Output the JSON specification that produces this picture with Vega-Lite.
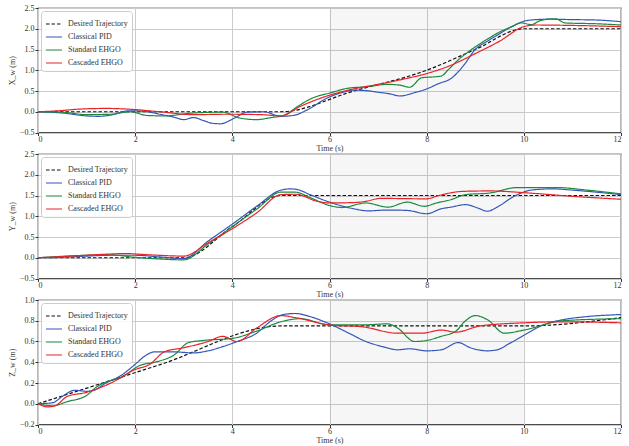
{
"$schema": "https://vega.github.io/schema/vega-lite/v6.json",
"background": "white",
"padding": {"left": 7, "top": 3, "right": 0, "bottom": 0},
"bounds": "flush",
"spacing": 21,
"config": {
  "font": "Liberation Serif",
  "view": {"stroke": "#111111", "strokeWidth": 1.2},
  "axis": {"labelFont": "Liberation Serif", "labelFontSize": 8, "labelColor": "#333333", "titleFont": "Liberation Serif", "titleFontSize": 8, "titleFontWeight": "normal", "titleColor": "#333333", "grid": true, "gridColor": "#cccccc", "gridWidth": 1, "domain": false, "tickColor": "#333333", "tickSize": 3, "labelPadding": 1},
  "axisX": {"titlePadding": 1, "labelPadding": 0},
  "axisY": {"titlePadding": 3},
  "legend": {"orient": "top-left", "offset": 3, "padding": 4, "strokeColor": "#cccccc", "fillColor": "rgba(255,255,255,0.85)", "cornerRadius": 3, "labelFont": "Liberation Serif", "labelFontSize": 8, "labelColor": "#333333", "symbolType": "stroke", "symbolSize": 256, "symbolStrokeWidth": 1.2, "rowPadding": -5, "labelOffset": 5}
},
"resolve": {"scale": {"color": "independent", "strokeDash": "independent"}, "legend": {"color": "independent", "strokeDash": "independent"}},
"datasets": {
"shade": [{"t": 6, "t2": 10}],
"x": [
{"s":"Desired Trajectory","t":0,"v":0},{"s":"Desired Trajectory","t":5,"v":0},{"s":"Desired Trajectory","t":6.5,"v":0.5},{"s":"Desired Trajectory","t":8,"v":1},{"s":"Desired Trajectory","t":9,"v":1.5},{"s":"Desired Trajectory","t":10,"v":2},{"s":"Desired Trajectory","t":12,"v":2},
{"s":"Classical PID","t":0,"v":0},{"s":"Classical PID","t":0.5,"v":-0.03},{"s":"Classical PID","t":1,"v":-0.1},{"s":"Classical PID","t":1.25,"v":-0.11},{"s":"Classical PID","t":1.5,"v":-0.08},{"s":"Classical PID","t":1.85,"v":0.02},{"s":"Classical PID","t":2,"v":0.02},{"s":"Classical PID","t":2.25,"v":0},{"s":"Classical PID","t":2.55,"v":-0.07},{"s":"Classical PID","t":2.8,"v":-0.13},{"s":"Classical PID","t":3,"v":-0.19},{"s":"Classical PID","t":3.2,"v":-0.14},{"s":"Classical PID","t":3.4,"v":-0.21},{"s":"Classical PID","t":3.6,"v":-0.28},{"s":"Classical PID","t":3.75,"v":-0.29},{"s":"Classical PID","t":4.05,"v":-0.15},{"s":"Classical PID","t":4.3,"v":-0.01},{"s":"Classical PID","t":4.65,"v":0},{"s":"Classical PID","t":5,"v":-0.11},{"s":"Classical PID","t":5.25,"v":-0.09},{"s":"Classical PID","t":5.55,"v":0.05},{"s":"Classical PID","t":5.95,"v":0.33},{"s":"Classical PID","t":6.25,"v":0.46},{"s":"Classical PID","t":6.5,"v":0.52},{"s":"Classical PID","t":6.75,"v":0.51},{"s":"Classical PID","t":7,"v":0.47},{"s":"Classical PID","t":7.25,"v":0.43},{"s":"Classical PID","t":7.45,"v":0.38},{"s":"Classical PID","t":7.75,"v":0.46},{"s":"Classical PID","t":8,"v":0.55},{"s":"Classical PID","t":8.25,"v":0.68},{"s":"Classical PID","t":8.5,"v":0.8},{"s":"Classical PID","t":8.75,"v":1.1},{"s":"Classical PID","t":9,"v":1.5},{"s":"Classical PID","t":9.25,"v":1.7},{"s":"Classical PID","t":9.5,"v":1.88},{"s":"Classical PID","t":9.75,"v":2.05},{"s":"Classical PID","t":10,"v":2.18},{"s":"Classical PID","t":10.25,"v":2.22},{"s":"Classical PID","t":10.5,"v":2.23},{"s":"Classical PID","t":11,"v":2.22},{"s":"Classical PID","t":11.5,"v":2.21},{"s":"Classical PID","t":12,"v":2.17},
{"s":"Standard EHGO","t":0,"v":0},{"s":"Standard EHGO","t":0.5,"v":-0.01},{"s":"Standard EHGO","t":1,"v":-0.07},{"s":"Standard EHGO","t":1.5,"v":-0.06},{"s":"Standard EHGO","t":1.9,"v":0},{"s":"Standard EHGO","t":2.25,"v":-0.09},{"s":"Standard EHGO","t":2.6,"v":-0.1},{"s":"Standard EHGO","t":3.2,"v":-0.03},{"s":"Standard EHGO","t":3.8,"v":-0.01},{"s":"Standard EHGO","t":4.15,"v":-0.15},{"s":"Standard EHGO","t":4.5,"v":-0.19},{"s":"Standard EHGO","t":4.8,"v":-0.14},{"s":"Standard EHGO","t":5.05,"v":-0.09},{"s":"Standard EHGO","t":5.4,"v":0.17},{"s":"Standard EHGO","t":5.65,"v":0.33},{"s":"Standard EHGO","t":6,"v":0.45},{"s":"Standard EHGO","t":6.4,"v":0.57},{"s":"Standard EHGO","t":6.75,"v":0.6},{"s":"Standard EHGO","t":7.2,"v":0.66},{"s":"Standard EHGO","t":7.45,"v":0.64},{"s":"Standard EHGO","t":7.65,"v":0.59},{"s":"Standard EHGO","t":7.9,"v":0.82},{"s":"Standard EHGO","t":8.15,"v":0.84},{"s":"Standard EHGO","t":8.3,"v":0.86},{"s":"Standard EHGO","t":8.45,"v":1.02},{"s":"Standard EHGO","t":8.65,"v":1.25},{"s":"Standard EHGO","t":8.9,"v":1.48},{"s":"Standard EHGO","t":9.25,"v":1.75},{"s":"Standard EHGO","t":9.5,"v":1.92},{"s":"Standard EHGO","t":9.75,"v":2.05},{"s":"Standard EHGO","t":9.95,"v":2.14},{"s":"Standard EHGO","t":10.15,"v":2.1},{"s":"Standard EHGO","t":10.35,"v":2.2},{"s":"Standard EHGO","t":10.65,"v":2.24},{"s":"Standard EHGO","t":10.85,"v":2.14},{"s":"Standard EHGO","t":11.5,"v":2.12},{"s":"Standard EHGO","t":12,"v":2.09},
{"s":"Cascaded EHGO","t":0,"v":0},{"s":"Cascaded EHGO","t":0.5,"v":0.03},{"s":"Cascaded EHGO","t":0.8,"v":0.06},{"s":"Cascaded EHGO","t":1.4,"v":0.08},{"s":"Cascaded EHGO","t":1.9,"v":0.06},{"s":"Cascaded EHGO","t":2.5,"v":0},{"s":"Cascaded EHGO","t":3.2,"v":-0.07},{"s":"Cascaded EHGO","t":3.9,"v":-0.06},{"s":"Cascaded EHGO","t":4.6,"v":-0.07},{"s":"Cascaded EHGO","t":5,"v":-0.1},{"s":"Cascaded EHGO","t":5.4,"v":0.13},{"s":"Cascaded EHGO","t":5.95,"v":0.38},{"s":"Cascaded EHGO","t":6.5,"v":0.55},{"s":"Cascaded EHGO","t":7,"v":0.66},{"s":"Cascaded EHGO","t":7.5,"v":0.78},{"s":"Cascaded EHGO","t":8,"v":0.92},{"s":"Cascaded EHGO","t":8.5,"v":1.12},{"s":"Cascaded EHGO","t":9,"v":1.4},{"s":"Cascaded EHGO","t":9.5,"v":1.7},{"s":"Cascaded EHGO","t":10,"v":2.05},{"s":"Cascaded EHGO","t":10.25,"v":2.09},{"s":"Cascaded EHGO","t":11,"v":2.08},{"s":"Cascaded EHGO","t":12,"v":2.05}
],
"y": [
{"s":"Desired Trajectory","t":0,"v":0},{"s":"Desired Trajectory","t":3,"v":0},{"s":"Desired Trajectory","t":4,"v":0.75},{"s":"Desired Trajectory","t":5,"v":1.5},{"s":"Desired Trajectory","t":12,"v":1.5},
{"s":"Classical PID","t":0,"v":0},{"s":"Classical PID","t":0.5,"v":0.01},{"s":"Classical PID","t":1,"v":0.04},{"s":"Classical PID","t":1.5,"v":0.06},{"s":"Classical PID","t":2,"v":0.06},{"s":"Classical PID","t":2.5,"v":0.02},{"s":"Classical PID","t":3,"v":-0.02},{"s":"Classical PID","t":3.5,"v":0.4},{"s":"Classical PID","t":4,"v":0.81},{"s":"Classical PID","t":4.5,"v":1.24},{"s":"Classical PID","t":5,"v":1.63},{"s":"Classical PID","t":5.2,"v":1.66},{"s":"Classical PID","t":5.35,"v":1.64},{"s":"Classical PID","t":5.6,"v":1.52},{"s":"Classical PID","t":6,"v":1.34},{"s":"Classical PID","t":6.5,"v":1.18},{"s":"Classical PID","t":6.8,"v":1.13},{"s":"Classical PID","t":7.2,"v":1.15},{"s":"Classical PID","t":7.6,"v":1.14},{"s":"Classical PID","t":8,"v":1.06},{"s":"Classical PID","t":8.3,"v":1.18},{"s":"Classical PID","t":8.5,"v":1.22},{"s":"Classical PID","t":8.8,"v":1.28},{"s":"Classical PID","t":9.05,"v":1.2},{"s":"Classical PID","t":9.25,"v":1.12},{"s":"Classical PID","t":9.45,"v":1.22},{"s":"Classical PID","t":9.8,"v":1.48},{"s":"Classical PID","t":10.15,"v":1.63},{"s":"Classical PID","t":10.6,"v":1.66},{"s":"Classical PID","t":11,"v":1.63},{"s":"Classical PID","t":11.5,"v":1.58},{"s":"Classical PID","t":12,"v":1.52},
{"s":"Standard EHGO","t":0,"v":0},{"s":"Standard EHGO","t":1,"v":0.06},{"s":"Standard EHGO","t":1.5,"v":0.07},{"s":"Standard EHGO","t":2,"v":0.01},{"s":"Standard EHGO","t":2.5,"v":-0.03},{"s":"Standard EHGO","t":3,"v":-0.05},{"s":"Standard EHGO","t":3.5,"v":0.33},{"s":"Standard EHGO","t":4,"v":0.75},{"s":"Standard EHGO","t":4.5,"v":1.17},{"s":"Standard EHGO","t":5,"v":1.58},{"s":"Standard EHGO","t":5.3,"v":1.58},{"s":"Standard EHGO","t":5.6,"v":1.45},{"s":"Standard EHGO","t":6,"v":1.26},{"s":"Standard EHGO","t":6.25,"v":1.21},{"s":"Standard EHGO","t":6.75,"v":1.32},{"s":"Standard EHGO","t":7.2,"v":1.22},{"s":"Standard EHGO","t":7.6,"v":1.34},{"s":"Standard EHGO","t":7.95,"v":1.24},{"s":"Standard EHGO","t":8.2,"v":1.32},{"s":"Standard EHGO","t":8.5,"v":1.4},{"s":"Standard EHGO","t":8.8,"v":1.52},{"s":"Standard EHGO","t":9.3,"v":1.56},{"s":"Standard EHGO","t":9.85,"v":1.69},{"s":"Standard EHGO","t":10.7,"v":1.69},{"s":"Standard EHGO","t":11.3,"v":1.63},{"s":"Standard EHGO","t":12,"v":1.54},
{"s":"Cascaded EHGO","t":0,"v":0},{"s":"Cascaded EHGO","t":0.7,"v":0.04},{"s":"Cascaded EHGO","t":1.3,"v":0.08},{"s":"Cascaded EHGO","t":1.8,"v":0.1},{"s":"Cascaded EHGO","t":2.3,"v":0.07},{"s":"Cascaded EHGO","t":3,"v":0.04},{"s":"Cascaded EHGO","t":3.5,"v":0.36},{"s":"Cascaded EHGO","t":4,"v":0.7},{"s":"Cascaded EHGO","t":4.5,"v":1.08},{"s":"Cascaded EHGO","t":5,"v":1.52},{"s":"Cascaded EHGO","t":5.3,"v":1.53},{"s":"Cascaded EHGO","t":5.75,"v":1.36},{"s":"Cascaded EHGO","t":6,"v":1.32},{"s":"Cascaded EHGO","t":6.5,"v":1.33},{"s":"Cascaded EHGO","t":6.75,"v":1.36},{"s":"Cascaded EHGO","t":7.05,"v":1.43},{"s":"Cascaded EHGO","t":8,"v":1.42},{"s":"Cascaded EHGO","t":8.25,"v":1.5},{"s":"Cascaded EHGO","t":8.75,"v":1.6},{"s":"Cascaded EHGO","t":9.3,"v":1.61},{"s":"Cascaded EHGO","t":10.1,"v":1.56},{"s":"Cascaded EHGO","t":11,"v":1.48},{"s":"Cascaded EHGO","t":12,"v":1.41}
],
"z": [
{"s":"Desired Trajectory","t":0,"v":0},{"s":"Desired Trajectory","t":2.5,"v":0.375},{"s":"Desired Trajectory","t":5,"v":0.75},{"s":"Desired Trajectory","t":10,"v":0.75},{"s":"Desired Trajectory","t":12,"v":0.83},
{"s":"Classical PID","t":0,"v":0},{"s":"Classical PID","t":0.3,"v":0.01},{"s":"Classical PID","t":0.5,"v":0.07},{"s":"Classical PID","t":0.75,"v":0.13},{"s":"Classical PID","t":1,"v":0.12},{"s":"Classical PID","t":1.15,"v":0.13},{"s":"Classical PID","t":1.4,"v":0.2},{"s":"Classical PID","t":1.7,"v":0.27},{"s":"Classical PID","t":2,"v":0.38},{"s":"Classical PID","t":2.2,"v":0.46},{"s":"Classical PID","t":2.4,"v":0.5},{"s":"Classical PID","t":2.8,"v":0.5},{"s":"Classical PID","t":3.2,"v":0.49},{"s":"Classical PID","t":3.5,"v":0.51},{"s":"Classical PID","t":3.8,"v":0.55},{"s":"Classical PID","t":4.1,"v":0.6},{"s":"Classical PID","t":4.5,"v":0.68},{"s":"Classical PID","t":4.8,"v":0.8},{"s":"Classical PID","t":5.05,"v":0.86},{"s":"Classical PID","t":5.3,"v":0.87},{"s":"Classical PID","t":5.6,"v":0.84},{"s":"Classical PID","t":6,"v":0.77},{"s":"Classical PID","t":6.4,"v":0.68},{"s":"Classical PID","t":6.75,"v":0.6},{"s":"Classical PID","t":7.1,"v":0.55},{"s":"Classical PID","t":7.4,"v":0.52},{"s":"Classical PID","t":7.65,"v":0.53},{"s":"Classical PID","t":8,"v":0.51},{"s":"Classical PID","t":8.3,"v":0.52},{"s":"Classical PID","t":8.65,"v":0.59},{"s":"Classical PID","t":8.9,"v":0.54},{"s":"Classical PID","t":9.25,"v":0.51},{"s":"Classical PID","t":9.45,"v":0.52},{"s":"Classical PID","t":9.7,"v":0.58},{"s":"Classical PID","t":10,"v":0.66},{"s":"Classical PID","t":10.4,"v":0.76},{"s":"Classical PID","t":10.8,"v":0.81},{"s":"Classical PID","t":11.3,"v":0.84},{"s":"Classical PID","t":12,"v":0.86},
{"s":"Standard EHGO","t":0,"v":0},{"s":"Standard EHGO","t":0.3,"v":-0.02},{"s":"Standard EHGO","t":0.6,"v":0.02},{"s":"Standard EHGO","t":1,"v":0.08},{"s":"Standard EHGO","t":1.2,"v":0.16},{"s":"Standard EHGO","t":1.4,"v":0.21},{"s":"Standard EHGO","t":1.7,"v":0.25},{"s":"Standard EHGO","t":2.1,"v":0.37},{"s":"Standard EHGO","t":2.4,"v":0.4},{"s":"Standard EHGO","t":2.8,"v":0.47},{"s":"Standard EHGO","t":3.1,"v":0.59},{"s":"Standard EHGO","t":3.4,"v":0.61},{"s":"Standard EHGO","t":4,"v":0.63},{"s":"Standard EHGO","t":4.5,"v":0.7},{"s":"Standard EHGO","t":5,"v":0.79},{"s":"Standard EHGO","t":5.4,"v":0.82},{"s":"Standard EHGO","t":6,"v":0.76},{"s":"Standard EHGO","t":6.7,"v":0.76},{"s":"Standard EHGO","t":7.2,"v":0.77},{"s":"Standard EHGO","t":7.4,"v":0.73},{"s":"Standard EHGO","t":7.75,"v":0.6},{"s":"Standard EHGO","t":8,"v":0.61},{"s":"Standard EHGO","t":8.3,"v":0.65},{"s":"Standard EHGO","t":8.6,"v":0.7},{"s":"Standard EHGO","t":8.8,"v":0.8},{"s":"Standard EHGO","t":9,"v":0.85},{"s":"Standard EHGO","t":9.25,"v":0.81},{"s":"Standard EHGO","t":9.6,"v":0.68},{"s":"Standard EHGO","t":10,"v":0.71},{"s":"Standard EHGO","t":10.8,"v":0.8},{"s":"Standard EHGO","t":12,"v":0.82},
{"s":"Cascaded EHGO","t":0,"v":0},{"s":"Cascaded EHGO","t":0.2,"v":-0.03},{"s":"Cascaded EHGO","t":0.35,"v":-0.02},{"s":"Cascaded EHGO","t":0.6,"v":0.07},{"s":"Cascaded EHGO","t":1,"v":0.11},{"s":"Cascaded EHGO","t":1.5,"v":0.2},{"s":"Cascaded EHGO","t":2,"v":0.33},{"s":"Cascaded EHGO","t":2.3,"v":0.38},{"s":"Cascaded EHGO","t":2.6,"v":0.5},{"s":"Cascaded EHGO","t":3,"v":0.54},{"s":"Cascaded EHGO","t":3.5,"v":0.6},{"s":"Cascaded EHGO","t":3.8,"v":0.65},{"s":"Cascaded EHGO","t":4.1,"v":0.6},{"s":"Cascaded EHGO","t":4.5,"v":0.73},{"s":"Cascaded EHGO","t":5,"v":0.85},{"s":"Cascaded EHGO","t":5.3,"v":0.83},{"s":"Cascaded EHGO","t":6,"v":0.76},{"s":"Cascaded EHGO","t":6.7,"v":0.74},{"s":"Cascaded EHGO","t":7.4,"v":0.68},{"s":"Cascaded EHGO","t":7.9,"v":0.68},{"s":"Cascaded EHGO","t":8.3,"v":0.71},{"s":"Cascaded EHGO","t":8.6,"v":0.69},{"s":"Cascaded EHGO","t":9.1,"v":0.75},{"s":"Cascaded EHGO","t":10,"v":0.78},{"s":"Cascaded EHGO","t":10.8,"v":0.79},{"s":"Cascaded EHGO","t":12,"v":0.78}
]
},
"vconcat": [
{
 "width": 583, "height": 124.5,
 "encoding": {"x": {"field": "t", "type": "quantitative", "scale": {"domain": [0, 12], "nice": false}, "axis": {"title": "Time (s)", "values": [0,2,4,6,8,10,12], "format": "d"}}},
 "layer": [
  {"data": {"name": "shade"}, "mark": {"type": "rect", "color": "#000000", "opacity": 0.035}, "encoding": {"x2": {"field": "t2"}}},
  {"data": {"name": "x"}, "mark": {"type": "line", "strokeWidth": 1.2, "interpolate": "monotone"},
   "encoding": {
    "y": {"field": "v", "type": "quantitative", "scale": {"domain": [-0.5, 2.5], "nice": false}, "axis": {"title": "X_w (m)", "values": [-0.5,0,0.5,1,1.5,2,2.5], "format": ".1f"}},
    "color": {"field": "s", "type": "nominal", "scale": {"domain": ["Desired Trajectory","Classical PID","Standard EHGO","Cascaded EHGO"], "range": ["#111111","#3357b8","#1b8a3f","#e82229"]}, "legend": {"title": null}},
    "strokeDash": {"field": "s", "type": "nominal", "scale": {"domain": ["Desired Trajectory","Classical PID","Standard EHGO","Cascaded EHGO"], "range": [[3.5,2],[1,0],[1,0],[1,0]]}, "legend": {"title": null}}
   }}
 ]
},
{
 "width": 583, "height": 124.5,
 "encoding": {"x": {"field": "t", "type": "quantitative", "scale": {"domain": [0, 12], "nice": false}, "axis": {"title": "Time (s)", "values": [0,2,4,6,8,10,12], "format": "d"}}},
 "layer": [
  {"data": {"name": "shade"}, "mark": {"type": "rect", "color": "#000000", "opacity": 0.035}, "encoding": {"x2": {"field": "t2"}}},
  {"data": {"name": "y"}, "mark": {"type": "line", "strokeWidth": 1.2, "interpolate": "monotone"},
   "encoding": {
    "y": {"field": "v", "type": "quantitative", "scale": {"domain": [-0.5, 2.5], "nice": false}, "axis": {"title": "Y_w (m)", "values": [-0.5,0,0.5,1,1.5,2,2.5], "format": ".1f"}},
    "color": {"field": "s", "type": "nominal", "scale": {"domain": ["Desired Trajectory","Classical PID","Standard EHGO","Cascaded EHGO"], "range": ["#111111","#3357b8","#1b8a3f","#e82229"]}, "legend": {"title": null}},
    "strokeDash": {"field": "s", "type": "nominal", "scale": {"domain": ["Desired Trajectory","Classical PID","Standard EHGO","Cascaded EHGO"], "range": [[3.5,2],[1,0],[1,0],[1,0]]}, "legend": {"title": null}}
   }}
 ]
},
{
 "width": 583, "height": 124.5,
 "encoding": {"x": {"field": "t", "type": "quantitative", "scale": {"domain": [0, 12], "nice": false}, "axis": {"title": "Time (s)", "values": [0,2,4,6,8,10,12], "format": "d"}}},
 "layer": [
  {"data": {"name": "shade"}, "mark": {"type": "rect", "color": "#000000", "opacity": 0.035}, "encoding": {"x2": {"field": "t2"}}},
  {"data": {"name": "z"}, "mark": {"type": "line", "strokeWidth": 1.2, "interpolate": "monotone"},
   "encoding": {
    "y": {"field": "v", "type": "quantitative", "scale": {"domain": [-0.2, 1.0], "nice": false}, "axis": {"title": "Z_w (m)", "values": [-0.2,0,0.2,0.4,0.6,0.8,1.0], "format": ".1f"}},
    "color": {"field": "s", "type": "nominal", "scale": {"domain": ["Desired Trajectory","Classical PID","Standard EHGO","Cascaded EHGO"], "range": ["#111111","#3357b8","#1b8a3f","#e82229"]}, "legend": {"title": null}},
    "strokeDash": {"field": "s", "type": "nominal", "scale": {"domain": ["Desired Trajectory","Classical PID","Standard EHGO","Cascaded EHGO"], "range": [[3.5,2],[1,0],[1,0],[1,0]]}, "legend": {"title": null}}
   }}
 ]
}
]
}
